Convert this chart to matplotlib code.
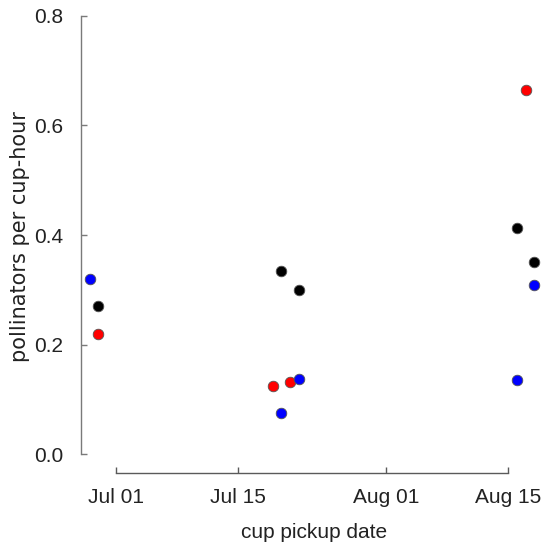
import matplotlib
matplotlib.use("Agg")
import matplotlib.pyplot as plt
import matplotlib.dates as mdates
import numpy as np

plt.rcParams['font.family'] = ['Liberation Sans', 'DejaVu Sans']

# data
black_dates = ["2019-06-29", "2019-07-20", "2019-07-22", "2019-08-16", "2019-08-18"]
black_vals = [0.271, 0.334, 0.300, 0.412, 0.351]
red_dates = ["2019-06-29", "2019-07-19", "2019-07-21", "2019-08-17"]
red_vals = [0.220, 0.124, 0.132, 0.665]
blue_dates = ["2019-06-28", "2019-07-20", "2019-07-22", "2019-08-16", "2019-08-18"]
blue_vals = [0.320, 0.076, 0.137, 0.136, 0.309]
tick_dates = ["2019-07-01", "2019-07-15", "2019-08-01", "2019-08-15"]
y_ticks = [0.0, 0.2, 0.4, 0.6, 0.8]

W, H = 547, 554
fig = plt.figure(figsize=(W / 100, H / 100), dpi=100)
left_px, bottom_px = 81.3, 472.5
ax = fig.add_axes([left_px / W, (H - bottom_px) / H, (W - left_px) / W, bottom_px / H])

def d2n(s):
    return mdates.date2num(np.datetime64(s))

jul1 = d2n("2019-07-01")
px_per_day = 8.724
ax.set_xlim(jul1 + (left_px - 115.7) / px_per_day, jul1 + (W - 115.7) / px_per_day)
px_per_unit = 548.25
ax.set_ylim(-(bottom_px - 454.3) / px_per_unit, 0.8 + 15.7 / px_per_unit)

for dates, vals, col in [(black_dates, black_vals, 'black'),
                         (red_dates, red_vals, '#ff0000'),
                         (blue_dates, blue_vals, '#0000ff')]:
    ax.scatter([d2n(d) for d in dates], vals, s=58, c=col,
               edgecolors='#555555', linewidths=0.6, zorder=3, clip_on=False)

ax.set_xticks([d2n(d) for d in tick_dates])
ax.xaxis.set_major_formatter(mdates.DateFormatter('%b %d'))
ax.set_yticks(y_ticks)
ax.set_yticklabels([f"{v:.1f}" for v in y_ticks])

for s in ['top', 'right']:
    ax.spines[s].set_visible(False)
ax.spines['left'].set_bounds(0, 0.8)
ax.spines['bottom'].set_bounds(d2n(tick_dates[0]), d2n(tick_dates[-1]))
ax.spines['left'].set_color('#7a7a7a')
ax.spines['bottom'].set_color('#5a5a5a')
ax.spines['left'].set_linewidth(1.0)
ax.spines['bottom'].set_linewidth(1.0)
ax.tick_params(axis='y', direction='in', length=4, width=1.0, color='#7a7a7a',
               labelsize=15, pad=13, labelcolor='#222222')
ax.tick_params(axis='x', direction='in', length=4, width=1.0, color='#5a5a5a',
               labelsize=15, pad=11, labelcolor='#222222')

ax.set_xlabel("cup pickup date", fontsize=15, color='#222222', labelpad=12)
ax.set_ylabel("pollinators per cup-hour", fontsize=15, color='#222222', labelpad=3,
              family=['DejaVu Sans'])
ax.patch.set_alpha(0)

fig.savefig("out.png", dpi=100)
